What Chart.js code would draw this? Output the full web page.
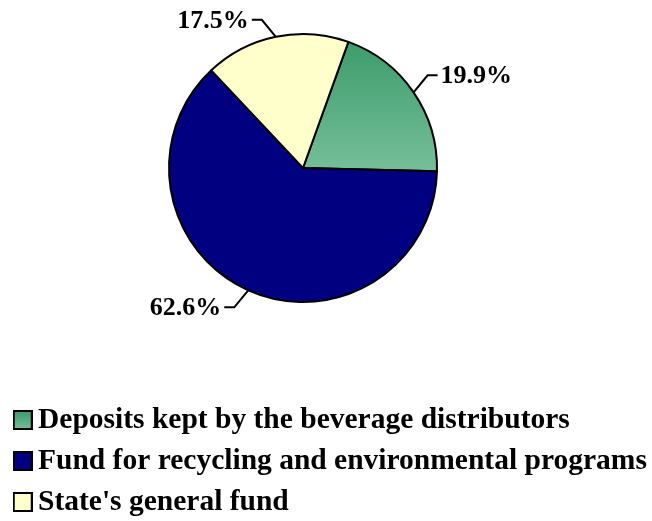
<!DOCTYPE html>
<html>
<head>
<meta charset="utf-8">
<script src="https://cdn.jsdelivr.net/npm/chart.js@4.4.1/dist/chart.umd.min.js"></script>
<style>
  html, body { margin: 0; padding: 0; background: #fff; }
</style>
</head>
<body>
<canvas id="myChart" width="652" height="521"></canvas>
<script>
// dati del grafico
const categorie = [
  "Deposits kept by the beverage distributors",
  "Fund for recycling and environmental programs",
  "State's general fund",
];
const percentuali = [19.9, 62.6, 17.5];
const colori = ["#3a9a68", "#000080", "#ffffcc"];
const verdeChiaro = "#76bf9a"; // fondo del gradiente verde

const font = "'Liberation Serif', 'Times New Roman', serif";
const raggio = 134;

// gradiente verticale per la fetta verde
function gradienteVerde(ctx, top, bottom) {
  const g = ctx.createLinearGradient(0, top, 0, bottom);
  g.addColorStop(0, colori[0]);
  g.addColorStop(1, verdeChiaro);
  return g;
}

// quadratini della legenda disegnati su un piccolo canvas
function quadratino(i) {
  const c = document.createElement("canvas");
  c.width = 20;
  c.height = 20;
  const x = c.getContext("2d");
  x.fillStyle = i === 0 ? gradienteVerde(x, 1, 19) : colori[i];
  x.fillRect(1, 1, 18, 18);
  x.lineWidth = 2;
  x.strokeStyle = "#000";
  x.strokeRect(1, 1, 18, 18);
  return c;
}
const quadratini = categorie.map((c, i) => quadratino(i));

// etichette con linea a gomito
const etichette = {
  id: "etichette",
  afterDatasetsDraw(chart) {
    const ctx = chart.ctx;
    const archi = chart.getDatasetMeta(0).data;
    ctx.save();
    ctx.font = `bold 26px ${font}`;
    ctx.strokeStyle = "#000";
    ctx.fillStyle = "#000";
    ctx.lineWidth = 2;
    ctx.textBaseline = "middle";
    archi.forEach((arco, i) => {
      const { x, y, startAngle, endAngle, outerRadius } = arco.getProps(
        ["x", "y", "startAngle", "endAngle", "outerRadius"],
        true
      );
      const mid = (startAngle + endAngle) / 2;
      const ex = x + Math.cos(mid) * outerRadius;
      const ey = y + Math.sin(mid) * outerRadius;
      const sx = Math.cos(mid) >= 0 ? 1 : -1;
      const sy = Math.sin(mid) >= 0 ? 1 : -1;
      const gx = ex + sx * 14;
      const gy = ey + sy * 17;
      const fx = gx + sx * 10;
      ctx.beginPath();
      ctx.moveTo(ex, ey);
      ctx.lineTo(gx, gy);
      ctx.lineTo(fx, gy);
      ctx.stroke();
      ctx.textAlign = sx > 0 ? "left" : "right";
      ctx.fillText(`${percentuali[i].toFixed(1)}%`, fx + sx * 3, gy + 1);
    });
    ctx.restore();
  },
};

const data = {
  labels: categorie,
  datasets: [
    {
      data: percentuali,
      backgroundColor: (c) => {
        if (c.dataIndex !== 0) return colori[c.dataIndex];
        const area = c.chart.chartArea;
        if (!area) return colori[0];
        const cy = (area.top + area.bottom) / 2;
        return gradienteVerde(c.chart.ctx, cy - raggio, cy + 5);
      },
      borderColor: "#000",
      borderWidth: 2,
      radius: raggio,
    },
  ],
};

const config = {
  type: "pie",
  data: data,
  options: {
    responsive: false,
    animation: false,
    rotation: 19.8,
    layout: { padding: { left: 10.75, right: 0, top: 0, bottom: -5.75 } },
    plugins: {
      tooltip: { enabled: false },
      // titolo vuoto a destra: sposta il centro della torta
      title: {
        display: true,
        text: "",
        position: "right",
        fullSize: false,
        padding: { top: 0, bottom: 42.35 },
      },
      legend: {
        position: "bottom",
        align: "start",
        title: { display: true, text: "", padding: { top: 0, bottom: 43.35 } },
        labels: {
          usePointStyle: true,
          pointStyleWidth: 1,
          padding: 11.5,
          color: "#000",
          font: { family: font, size: 29.5, weight: "bold" },
          generateLabels: () =>
            categorie.map((t, i) => ({
              text: t,
              pointStyle: quadratini[i],
              fillStyle: colori[i],
              strokeStyle: "#000",
              lineWidth: 0,
              fontColor: "#000",
              hidden: false,
              index: i,
            })),
        },
      },
    },
  },
  plugins: [etichette],
};

const myChart = new Chart(document.getElementById("myChart"), config);
</script>
</body>
</html>
